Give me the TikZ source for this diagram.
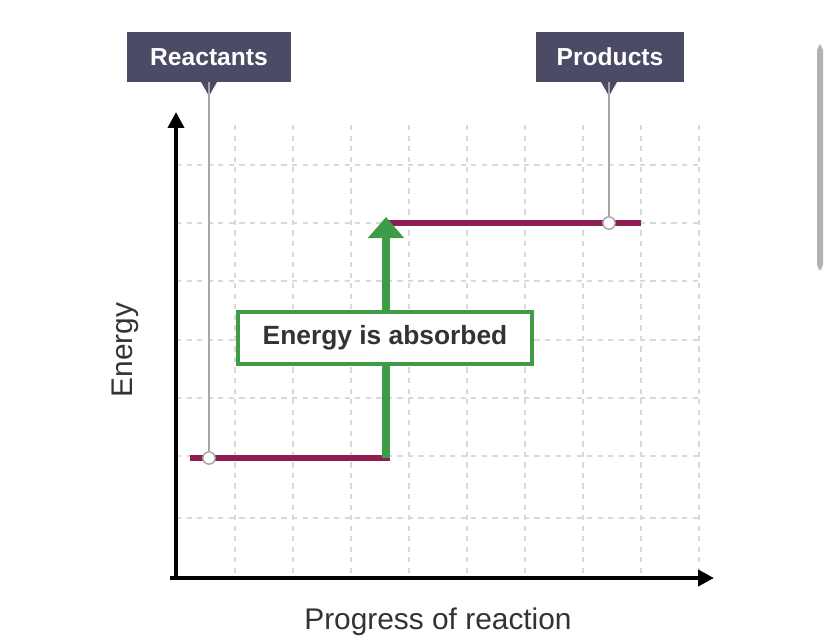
\documentclass[tikz,border=0pt]{standalone}
\usepackage{fontspec}
\setmainfont{Liberation Sans}
\usetikzlibrary{arrows.meta}
\definecolor{levelred}{HTML}{8E1F55}
\definecolor{arrowgreen}{HTML}{3E9B47}
\definecolor{tagblue}{HTML}{4B4B66}
\begin{document}
\begin{tikzpicture}[x=0.02cm, y=-0.02cm,
        gridline/.style={gray!30, dashed, line width=0.6pt},
        level/.style={levelred, line width=3.5pt},
        tag/.style={fill=tagblue, text=white, font=\fontsize{14}{16}\selectfont\bfseries, minimum height=1cm, inner xsep=8pt},
        pointer/.style={gray!70, line width=0.8pt},
        dot/.style={circle, draw=gray!70, fill=white, line width=0.8pt, inner sep=0pt, minimum size=7pt}]
      \useasboundingbox (0,0) rectangle (828,642);

      % Grid
      \foreach \x in {235,293,351,409,467,525,583,641,699}
        \draw[gridline] (\x,125) -- (\x,578);
      \foreach \y in {165,223,281,340,398,456,518}
        \draw[gridline] (176,\y) -- (700,\y);

      % Axes
      \coordinate (O) at (176,578);
      \coordinate (ytop) at (176,112);
      \coordinate (xend) at (714,578);
      \draw[line width=2.5pt, -{Triangle[length=9pt,width=9pt]}] (O) -- (ytop);
      \draw[line width=2.5pt, -{Triangle[length=9pt,width=9pt]}] (170,578) -- (xend);

      % Energy levels
      \coordinate (R1) at (190,458);
      \coordinate (R2) at (390,458);
      \coordinate (P1) at (386,223);
      \coordinate (P2) at (641,223);
      \draw[level] (R1) -- (R2);
      \draw[level] (P1) -- (P2);

      % Energy change
      \coordinate (A1) at (386,458);
      \coordinate (A2) at (386,217);
      \draw[arrowgreen, line width=5pt, -{Triangle[length=12pt,width=20pt]}] (A1) -- (A2);
      \node[draw=arrowgreen, fill=white, line width=2pt, minimum width=5.88cm, minimum height=1.05cm,
        font=\fontsize{15}{17}\selectfont\bfseries, text=black!80] (box) at (385,338) {Energy is absorbed};

      % Labels
      \node[tag, minimum width=3.3cm] (react) at (209,57) {Reactants};
      \node[tag, minimum width=2.96cm] (prod) at (610,57) {Products};
      \fill[tagblue] (201,82) -- (217,82) -- (209,96) -- cycle;
      \fill[tagblue] (601,82) -- (617,82) -- (609,96) -- cycle;
      \node[dot] (rdot) at (209,458) {};
      \node[dot] (pdot) at (609,223) {};
      \draw[pointer] (react.south) ++(0,0) -- (rdot);
      \draw[pointer] (prod.south -| pdot) -- (pdot);

      % Axis titles
      \node[rotate=90, font=\fontsize{17}{20}\selectfont, text=black!80] (ylab) at (125,350) {Energy};
      \node[font=\fontsize{17}{20}\selectfont, text=black!80] (xlab) at (438,622) {Progress of reaction};

      % Scroll bar
      \fill[gray!60, rounded corners=3pt] (817,45) rectangle (823,270);
\end{tikzpicture}
\end{document}
